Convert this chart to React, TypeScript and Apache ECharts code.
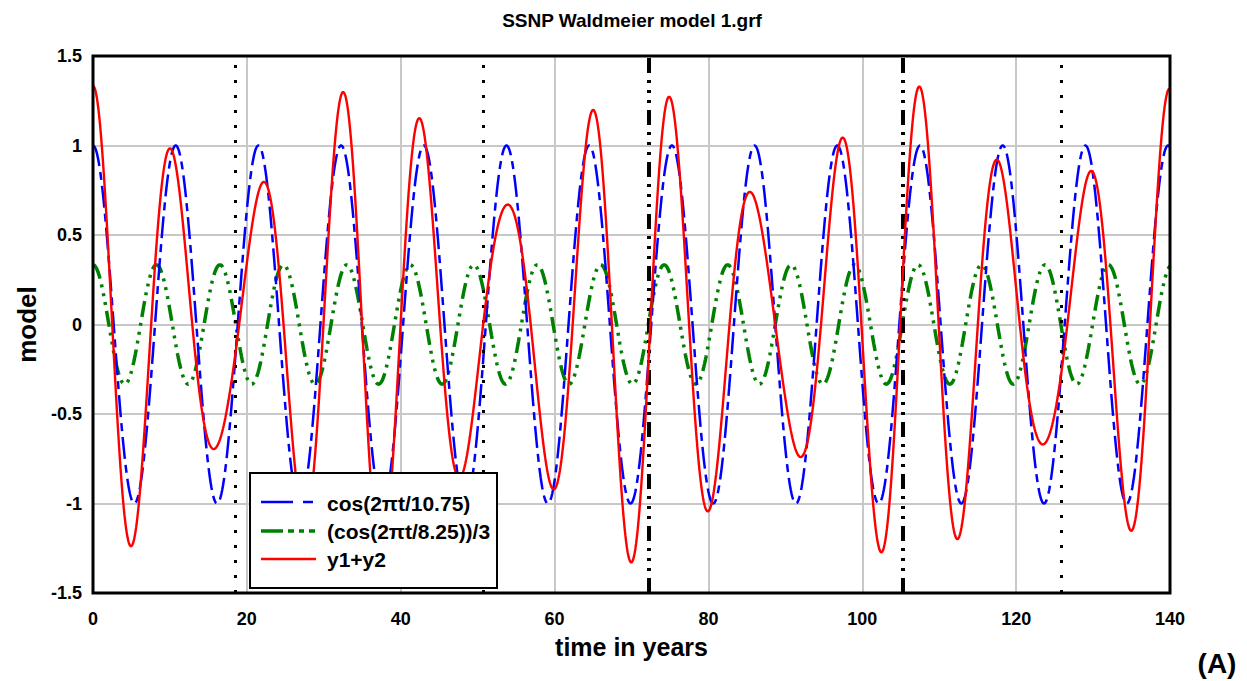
import React, { useEffect, useRef } from "react";
import * as echarts from "echarts";

// Values (legend formulas and axes)
const TITLE = "SSNP Waldmeier model 1.grf";
const X_NAME = "time in years";
const Y_NAME = "model";
const LEGEND_NAMES = ["cos(2\u03c0t/10.75)", "(cos(2\u03c0t/8.25))/3", "y1+y2"];
const PERIOD_1 = 10.75; // from legend
const PERIOD_2 = 8.25; // from legend
const DIVISOR_2 = 3; // from legend
const T_START = 0;
const T_END = 140;
const T_STEP = 0.1;
const MARKER_YEARS = [18.5, 50.7, 72.3, 105.3, 125.8];
const MARKER_KIND = ["dot", "dot", "dashdot", "dashdot", "dot"];

const FONT = '"Liberation Sans", Arial, Helvetica, sans-serif';

const times: number[] = [];
for (let i = 0; Math.round(T_START / T_STEP) + i <= Math.round(T_END / T_STEP); i++) {
  times.push(+(T_START + i * T_STEP).toFixed(2));
}
const y1 = times.map((t) => Math.cos((2 * Math.PI * t) / PERIOD_1));
const y2 = times.map((t) => Math.cos((2 * Math.PI * t) / PERIOD_2) / DIVISOR_2);
const ySum = times.map((_, i) => y1[i] + y2[i]);

const pairs = (ys: number[]) => times.map((t, i) => [t, ys[i]]);

export default function App() {
  const ref = useRef<HTMLDivElement>(null);
  useEffect(() => {
    if (!ref.current) return;
    const chart = echarts.init(ref.current, null, { renderer: "svg" });
    const blueDash = [22, 6, 8, 6];
    const greenDash = [16, 6, 3, 6, 3, 6, 3, 6];
    const LZ = 100;
    const option: any = {
      animation: false,
      backgroundColor: "#ffffff",
      grid: {
        left: 93,
        right: 77,
        top: 56,
        bottom: 88,
        show: true,
        borderColor: "#000",
        borderWidth: 3,
        backgroundColor: "transparent",
        z: 10,
      },
      xAxis: {
        type: "value",
        min: 0,
        max: 140,
        interval: 20,
        name: X_NAME,
        nameLocation: "middle",
        nameGap: 41,
        nameTextStyle: { fontFamily: FONT, fontWeight: "bold", fontSize: 25, color: "#000" },
        axisLine: { show: false },
        axisTick: { show: false },
        axisLabel: { margin: 17, fontFamily: FONT, fontWeight: "bold", fontSize: 18, color: "#000" },
        splitLine: { show: true, lineStyle: { color: "#c8c8c8", width: 2 } },
      },
      yAxis: {
        type: "value",
        min: -1.5,
        max: 1.5,
        interval: 0.5,
        name: Y_NAME,
        nameLocation: "middle",
        nameGap: 50,
        nameTextStyle: { fontFamily: FONT, fontWeight: "bold", fontSize: 26, color: "#000" },
        axisLine: { show: false },
        axisTick: { show: false },
        axisLabel: { margin: 11, fontFamily: FONT, fontWeight: "bold", fontSize: 18, color: "#000" },
        splitLine: { show: true, lineStyle: { color: "#c8c8c8", width: 2 } },
      },
      series: [
        {
          type: "line",
          data: [],
          silent: true,
          markLine: {
            silent: true,
            symbol: "none",
            label: { show: false },
            data: MARKER_YEARS.map((x, i) => ({
              xAxis: x,
              lineStyle:
                MARKER_KIND[i] === "dot"
                  ? { color: "#000", width: 3, type: [3, 12], cap: "butt" }
                  : { color: "#000", width: 4, type: [15, 7, 3, 7, 3, 7, 3, 7], cap: "butt" },
            })),
          },
        },
        {
          name: LEGEND_NAMES[1],
          type: "line",
          data: pairs(y2),
          showSymbol: false,
          lineStyle: { color: "#008000", width: 3.5, type: greenDash, cap: "butt" },
          z: 3,
        },
        {
          name: LEGEND_NAMES[0],
          type: "line",
          data: pairs(y1),
          showSymbol: false,
          lineStyle: { color: "#0000ff", width: 2.5, type: blueDash, cap: "butt" },
          z: 4,
        },
        {
          name: LEGEND_NAMES[2],
          type: "line",
          data: pairs(ySum),
          showSymbol: false,
          lineStyle: { color: "#ff0000", width: 2.4 },
          z: 5,
        },
      ],
      graphic: [
        {
          type: "text",
          x: 632,
          y: 20,
          style: { text: TITLE, font: `bold 19px ${FONT}`, fill: "#000", align: "center", verticalAlign: "middle" },
        },
        {
          type: "text",
          x: 1217,
          y: 663,
          style: { text: "(A)", font: `bold 28px ${FONT}`, fill: "#000", align: "center", verticalAlign: "middle" },
        },
        {
          type: "rect",
          z: LZ,
          shape: { x: 250, y: 473, width: 247, height: 115 },
          style: { fill: "#fff", stroke: "#000", lineWidth: 2 },
        },
        {
          type: "line",
          z: LZ + 1,
          shape: { x1: 261, y1: 502, x2: 313, y2: 502 },
          style: { stroke: "#0000ff", lineWidth: 2.5, lineDash: [32, 10, 10, 10] },
        },
        {
          type: "line",
          z: LZ + 1,
          shape: { x1: 261, y1: 531, x2: 315, y2: 531 },
          style: { stroke: "#008000", lineWidth: 3.5, lineDash: [22, 5, 6, 5, 5, 5, 6, 5] },
        },
        {
          type: "line",
          z: LZ + 1,
          shape: { x1: 261, y1: 559, x2: 316, y2: 559 },
          style: { stroke: "#ff0000", lineWidth: 2.4 },
        },
        ...LEGEND_NAMES.map((n, i) => ({
          type: "text",
          z: LZ + 1,
          x: 327,
          y: [503, 531, 559][i],
          style: { text: n, font: `bold 21px ${FONT}`, fill: "#000", align: "left", verticalAlign: "middle" },
        })),
      ],
    };
    chart.setOption(option);
    return () => chart.dispose();
  }, []);
  return <div ref={ref} style={{ position: "fixed", left: 0, top: 0, width: 1247, height: 681 }} />;
}
